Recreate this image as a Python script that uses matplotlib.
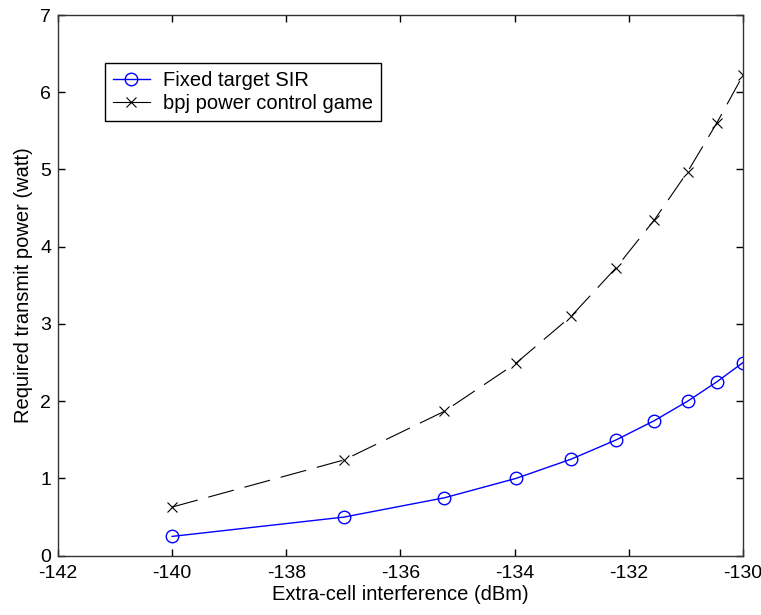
import matplotlib
matplotlib.use("Agg")
import matplotlib.pyplot as plt

plt.rcParams['font.family'] = ['Liberation Sans', 'DejaVu Sans']
plt.rcParams['lines.scale_dashes'] = False
plt.rcParams['axes.unicode_minus'] = False

interference_dbm = [-140.0, -136.99, -135.23, -133.98, -133.01, -132.22, -131.55, -130.97, -130.46, -130.0]
fixed_sir_power = [0.25, 0.50, 0.75, 1.00, 1.25, 1.50, 1.75, 2.00, 2.25, 2.50]
bpj_game_power = [0.63, 1.24, 1.87, 2.49, 3.10, 3.73, 4.35, 4.97, 5.60, 6.22]
x_ticks = [-142, -140, -138, -136, -134, -132, -130]
y_ticks = [0, 1, 2, 3, 4, 5, 6, 7]

fig = plt.figure(figsize=(7.61, 6.15), dpi=100)
ax = fig.add_axes([0.0762, 0.0964, 0.9001, 0.8792])

ax.plot(interference_dbm, fixed_sir_power, color='#0000ff', lw=1.0, marker='o',
        markersize=9, markerfacecolor='none', markeredgecolor='#0000ff',
        markeredgewidth=1.0, label='Fixed target SIR')
ax.plot(interference_dbm, bpj_game_power, color='black', lw=0.8, marker='x',
        markersize=7, markeredgewidth=0.8, dashes=(19, 8),
        label='bpj power control game')

ax.set_xlim(-142, -130)
ax.set_ylim(0, 7)
ax.set_xticks(x_ticks)
ax.set_yticks(y_ticks)
ax.tick_params(direction='in', length=5, width=1, top=True, right=True,
               labelsize=14)
ax.tick_params(axis='x', pad=7)
ax.tick_params(axis='y', pad=5)
for s in ax.spines.values():
    s.set_linewidth(1.0)
    s.set_color('#333333')

ax.set_xlabel('Extra-cell interference (dBm)', fontsize=14.5, labelpad=2)
ax.set_ylabel('Required transmit power (watt)', fontsize=14.5, labelpad=5)

leg = ax.legend(loc='upper left', bbox_to_anchor=(0.068, 0.912), borderaxespad=0,
                fontsize=14.5, frameon=True, fancybox=False, framealpha=1,
                edgecolor='black', handlelength=1.85, handletextpad=0.65,
                borderpad=0.4, labelspacing=0.22)
leg.get_frame().set_linewidth(1.0)
for ln in leg.get_lines():
    ln.set_linestyle('-')

fig.savefig('out.png', dpi=100)
